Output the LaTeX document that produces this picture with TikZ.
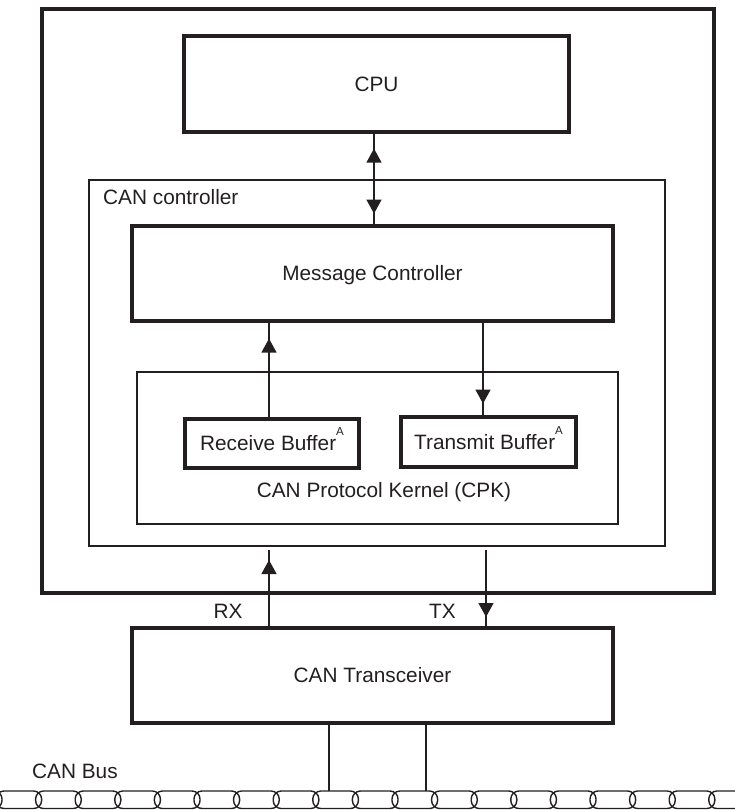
\documentclass[tikz,border=0pt]{standalone}
\usepackage{fontspec}
\setmainfont{Liberation Sans}
\usetikzlibrary{arrows.meta,decorations.markings}
\definecolor{ink}{HTML}{231F20}
\tikzset{
  every node/.style={font=\fontsize{20.8}{24}\selectfont, text=ink},
  heavybox/.style={draw=ink, line width=3.2pt, inner sep=0pt, text height=14.9pt, text depth=0pt},
  lightbox/.style={draw=ink, line width=2.3pt, inner sep=0pt},
  lbl/.style={inner sep=0pt},
  conn/.style={draw=ink, line width=1.3pt},
  tri/.style={ink},
  fwdtip/.style={postaction={decorate}, decoration={markings,
      mark=at position #1 with {\arrow[ink]{Triangle[width=15pt,length=14pt]}}}},
  backtip/.style={postaction={decorate}, decoration={markings,
      mark=at position #1 with {\arrowreversed[ink]{Triangle[width=15pt,length=14pt]}}}},
  buswire/.style={draw=ink, line width=1.4pt, rounded corners=8pt}
}
\newcommand{\supA}{\smash{\raisebox{15pt}{\fontsize{11.5}{12}\selectfont A}}}
\begin{document}
\begin{tikzpicture}[x=1pt,y=-1pt]
\useasboundingbox (0,0) rectangle (734,810);

% boxes
\node[heavybox, minimum width=672pt, minimum height=584pt] (chip) at (378,301) {};
\node[heavybox, minimum width=385pt, minimum height=96pt] (cpu) at (376.5,84) {CPU};
\node[lightbox, minimum width=576pt, minimum height=366pt] (canctl) at (377,363) {};
\node[lbl, anchor=base west] (canctllbl) at (103,205) {CAN controller};
\node[heavybox, minimum width=481pt, minimum height=95pt] (mc) at (372.5,273.5) {Message Controller};
\node[lightbox, minimum width=481pt, minimum height=152pt] (cpk) at (377.5,448) {};
\node[lbl, anchor=base] (cpklbl) at (384,497) {CAN Protocol Kernel (CPK)};
\node[heavybox, minimum width=174pt, minimum height=49pt] (rb) at (272,443.5) {Receive Buffer\supA};
\node[heavybox, minimum width=175pt, minimum height=50pt] (tb) at (488.5,442) {Transmit Buffer\supA};
\node[heavybox, minimum width=481pt, minimum height=95pt] (trx) at (372.5,675.5) {CAN Transceiver};

% labels
\node[lbl, anchor=base] (rxlbl) at (228,618) {RX};
\node[lbl, anchor=base] (txlbl) at (442.5,618) {TX};
\node[lbl, anchor=base west] (buslbl) at (32,778) {CAN Bus};

% connector columns
\coordinate (colcpu) at (374,0);
\coordinate (colrb) at (269,0);
\coordinate (coltb) at (483,0);
\coordinate (rxend) at (269,550);
\coordinate (txend) at (486,550);
\coordinate (bus1) at (329,791);
\coordinate (bus2) at (426,791);

% CPU <-> Message Controller
\draw[conn, postaction={decorate}, decoration={markings,
    mark=at position 15pt with {\arrowreversed[ink]{Triangle[width=15pt,length=14pt]}},
    mark=at position 80pt with {\arrow[ink]{Triangle[width=15pt,length=14pt]}}}]
  (cpu.south -| colcpu) -- (mc.north -| colcpu);
% Receive buffer -> Message Controller
\draw[conn, backtip=16pt] (mc.south -| colrb) -- (rb.north -| colrb);
% Message Controller -> Transmit buffer
\draw[conn, fwdtip=81pt] (mc.south -| coltb) -- (tb.north -| coltb);
% RX / TX
\draw[conn, backtip=10pt] (rxend) -- (trx.north -| rxend);
\draw[conn, fwdtip=67pt] (txend) -- (trx.north -| txend);
% bus drops
\draw[conn] (trx.south -| bus1) -- (bus1);
\draw[conn] (trx.south -| bus2) -- (bus2);

% twisted pair bus
\foreach \k in {-1,...,18} {
  \pgfmathsetmacro\cx{-1+39.6*\k}
  \draw[buswire] (\cx-3,791) rectangle (\cx+42.6,808.5);
}
\end{tikzpicture}
\end{document}
